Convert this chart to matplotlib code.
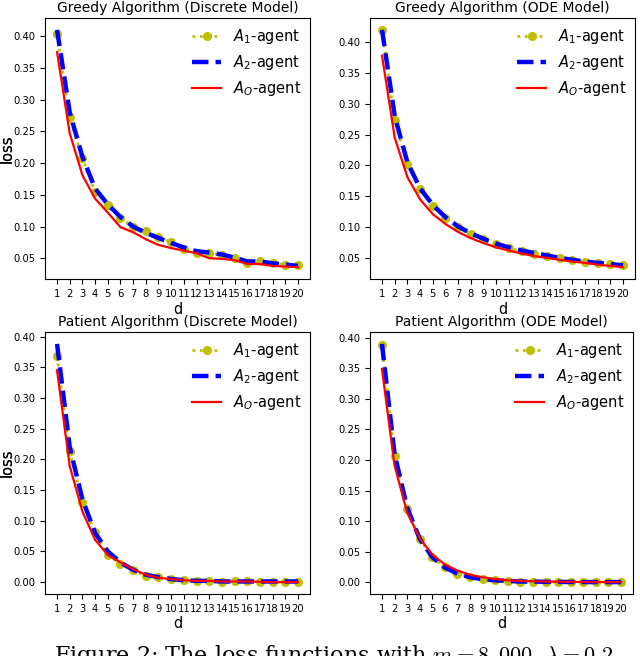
import matplotlib
matplotlib.use("Agg")
import matplotlib.pyplot as plt
import numpy as np

d = list(range(1, 21))
xtick_labels = [str(i) for i in d]

titles = ["Greedy Algorithm (Discrete Model)", "Greedy Algorithm (ODE Model)",
          "Patient Algorithm (Discrete Model)", "Patient Algorithm (ODE Model)"]

# Greedy, discrete
gd_a1 = [0.403, 0.272, 0.208, 0.155, 0.134, 0.113, 0.100, 0.093, 0.084, 0.075,
         0.064, 0.059, 0.058, 0.055, 0.050, 0.043, 0.046, 0.042, 0.040, 0.039]
gd_a2 = [0.410, 0.280, 0.210, 0.160, 0.135, 0.115, 0.100, 0.090, 0.082, 0.074,
         0.067, 0.061, 0.059, 0.056, 0.051, 0.045, 0.045, 0.042, 0.040, 0.038]
gd_ao = [0.375, 0.247, 0.181, 0.144, 0.122, 0.099, 0.091, 0.080, 0.071, 0.066,
         0.062, 0.058, 0.050, 0.049, 0.047, 0.041, 0.041, 0.038, 0.037, 0.036]

# Greedy, ODE
go_a1 = [0.420, 0.273, 0.202, 0.161, 0.134, 0.115, 0.100, 0.089, 0.080, 0.072,
         0.066, 0.061, 0.057, 0.053, 0.050, 0.047, 0.044, 0.042, 0.040, 0.038]
go_a2 = [0.420, 0.280, 0.205, 0.163, 0.136, 0.116, 0.101, 0.090, 0.081, 0.073,
         0.067, 0.062, 0.058, 0.054, 0.050, 0.047, 0.044, 0.042, 0.040, 0.038]
go_ao = [0.378, 0.245, 0.181, 0.145, 0.121, 0.105, 0.092, 0.082, 0.074, 0.067,
         0.062, 0.057, 0.053, 0.050, 0.047, 0.044, 0.042, 0.039, 0.037, 0.035]

# Patient, discrete
pd_a1 = [0.368, 0.213, 0.131, 0.081, 0.044, 0.030, 0.019, 0.010, 0.008, 0.005,
         0.003, 0.001, 0.002, 0.000, 0.001, 0.001, 0.000, 0.000, 0.000, 0.000]
pd_a2 = [0.388, 0.220, 0.135, 0.080, 0.050, 0.032, 0.020, 0.012, 0.008, 0.005,
         0.003, 0.002, 0.002, 0.001, 0.001, 0.001, 0.001, 0.001, 0.001, 0.001]
pd_ao = [0.345, 0.189, 0.115, 0.069, 0.044, 0.032, 0.021, 0.012, 0.007, 0.005,
         0.003, 0.002, 0.002, 0.001, 0.001, 0.001, 0.0005, 0.000, 0.000, 0.000]

# Patient, ODE
po_a1 = [0.389, 0.207, 0.120, 0.070, 0.041, 0.024, 0.014, 0.008, 0.005, 0.003,
         0.002, 0.001, 0.001, 0.0005, 0.0004, 0.0003, 0.0002, 0.0001, 0.0001, 0.0001]
po_a2 = [0.390, 0.210, 0.122, 0.071, 0.041, 0.024, 0.014, 0.008, 0.005, 0.003,
         0.002, 0.001, 0.001, 0.0005, 0.0004, 0.0003, 0.0002, 0.0001, 0.0001, 0.0001]
po_ao = [0.349, 0.191, 0.114, 0.072, 0.045, 0.029, 0.019, 0.012, 0.008, 0.005,
         0.003, 0.002, 0.0015, 0.001, 0.0007, 0.0005, 0.0003, 0.0002, 0.0001, 0.0001]

series = [(gd_a1, gd_a2, gd_ao), (go_a1, go_a2, go_ao),
          (pd_a1, pd_a2, pd_ao), (po_a1, po_a2, po_ao)]

W, H = 640, 656
fig = plt.figure(figsize=(W / 100, H / 100), dpi=100)

# axes boxes in pixels: (left, top, right, bottom)
boxes = [(45, 18, 310, 279), (370, 18, 635, 279),
         (45, 332, 310, 594), (370, 332, 633, 594)]

for (l, t, r, b), title, (a1, a2, ao) in zip(boxes, titles, series):
    ax = fig.add_axes([l / W, (H - b) / H, (r - l) / W, (b - t) / H])
    ax.plot(d, a1, 'y:', marker='o', markersize=5.5, linewidth=2,
            label=r'$A_1$-agent')
    ax.plot(d, a2, 'b--', linewidth=3.2, label=r'$A_2$-agent')
    ax.plot(d, ao, 'r-', linewidth=1.6, label=r'$A_O$-agent')
    ax.set_xticks(d)
    ax.set_xticklabels(xtick_labels, fontsize=7.2)
    ax.tick_params(axis='y', labelsize=7.2)
    ax.set_title(title, fontsize=10, pad=4)
    ax.set_xlabel('d', fontsize=10.5, labelpad=2)
    ax.set_ylabel('loss', fontsize=10.5)
    ax.yaxis.set_label_coords((15 - l) / (r - l), 0.5)
    ax.legend(loc='upper right', frameon=False, fontsize=10.5,
              handlelength=2.0, borderaxespad=0.2)

fig.text(337 / W, (H - 643) / H,
         r'Figure 2: The loss functions with $m = 8,000$, $\lambda = 0.2$.',
         ha='center', va='top', fontsize=16, fontfamily='DejaVu Serif',
         math_fontfamily='cm')

fig.savefig('out.png', dpi=100)
